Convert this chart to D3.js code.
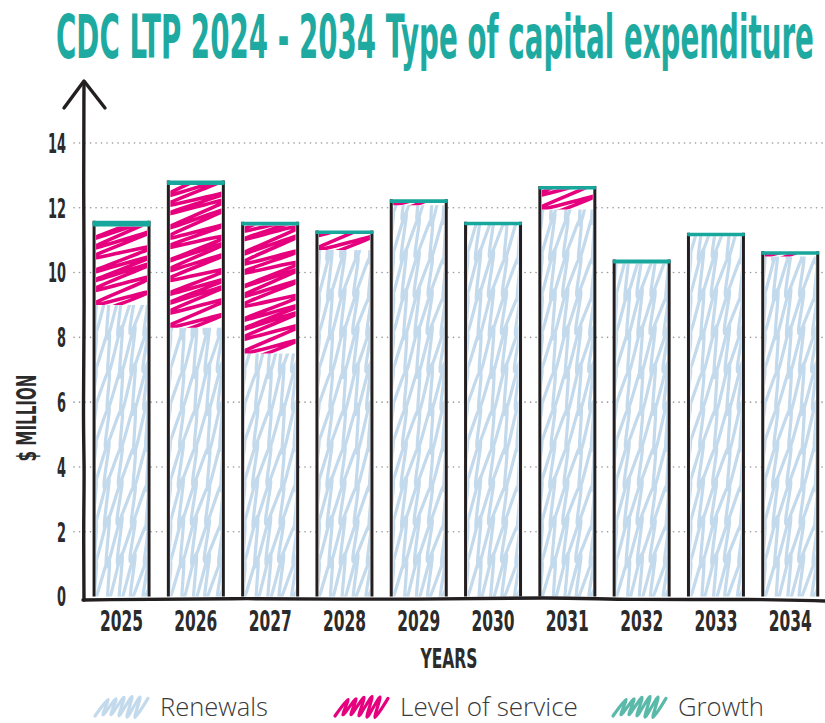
<!DOCTYPE html>
<html>
<head>
<meta charset="utf-8">
<script src="https://cdn.jsdelivr.net/npm/d3@7"></script>
<style>
  body { margin: 0; background: #fff; }
  .cond { font-family: "Liberation Sans Narrow", "DejaVu Sans Condensed", "Roboto Condensed", sans-serif; font-weight: bold; font-stretch: condensed; }
</style>
</head>
<body>
<div id="container"></div>
<script>
// chart data ($ million)
const years = ["2025", "2026", "2027", "2028", "2029", "2030", "2031", "2032", "2033", "2034"];
const renewals = [9.0, 8.3, 7.5, 10.7, 12.08, 11.47, 11.95, 10.28, 11.12, 10.5];
const levelOfService = [2.42, 4.4, 3.95, 0.5, 0.07, 0, 0.62, 0, 0, 0.07];
const growth = [0.18, 0.14, 0.12, 0.1, 0.11, 0.1, 0.1, 0.12, 0.11, 0.09];
const yTicks = [0, 2, 4, 6, 8, 10, 12, 14];
const seriesNames = ["Renewals", "Level of service", "Growth"];

const w = 825, h = 723;
const ink = "#231f20";
const colors = { renewals: "#c3d9ec", los: "#e6007e", growth: "#17a79c", growthKey: "#5bb9aa" };

let svg = d3.select("#container").append("svg")
    .attr("width", w).attr("height", h);

let x = d3.scaleBand().domain(years).range([84.4, 827.4])
    .paddingInner(0.26).paddingOuter(0.13);
let y = d3.scaleLinear().domain([0, 14]).range([596.5, 143]);

// squeeze a text horizontally to a wanted width, keeping its anchor point
function squeeze(sel, target) {
    sel.each(function () {
        let t = d3.select(this);
        let natural = this.getComputedTextLength();
        let want = typeof target === "function" ? target(t.text()) : target;
        let sx = want / natural;
        let ax = +t.attr("x") || 0, ay = +t.attr("y") || 0;
        t.attr("transform", `translate(${ax},${ay}) scale(${sx},1) translate(${-ax},${-ay})`);
    });
}

// title
svg.append("text")
    .attr("class", "cond")
    .attr("x", 56).attr("y", 58)
    .style("font-size", "61px").style("fill", "#1eaaa0")
    .text("CDC LTP 2024 - 2034 Type of capital expenditure")
    .call(squeeze, 758);

// dotted grid
svg.append("g").selectAll("line")
    .data(yTicks.filter(d => d > 0))
    .enter().append("line")
    .attr("x1", 74).attr("x2", w)
    .attr("y1", d => y(d)).attr("y2", d => y(d))
    .attr("stroke", "#9a9a9a").attr("stroke-width", 1.6)
    .attr("stroke-linecap", "round").attr("stroke-dasharray", "0.1,5.4");

// y tick labels
let yAxis = svg.append("g").attr("transform", "translate(70,0)")
    .call(d3.axisLeft(y).tickValues(yTicks).tickSize(0).tickPadding(4));
yAxis.select(".domain").remove();
yAxis.selectAll("text")
    .attr("class", "cond")
    .style("font-size", "26px").style("fill", "#2b2b2b")
    .attr("dy", "0.36em")
    .call(squeeze, s => s.length * 9);

// scribble helpers (purely decorative fill strokes)
let smooth = d3.line().curve(d3.curveCatmullRom.alpha(0.5));
function rowScribble(x0, y0, bw, bh) {
    // loops running left to right, stacked in rows from the bottom
    let p = "", r = 0;
    for (let b = y0 + bh + 6; b > y0 - 10; b -= 38, r++) {
        let seg = [];
        for (let xx = x0 - 14, i = 0; xx < x0 + bw + 14; xx += 13, i++) {
            seg.push([xx + 2 * Math.sin(i + r), b - 3 * Math.sin(i * 1.7 + r)]);
            seg.push([xx + 16, b - 46 + 4 * Math.cos(i * 1.3 + r)]);
        }
        p += smooth(seg);
    }
    return p;
}
function climbScribble(x0, y0, bw, bh) {
    // zigzag climbing from the bottom of the segment to its top
    let seg = [];
    for (let yy = y0 + bh + 10, i = 0; yy > y0 - 30; yy -= 11, i++) {
        seg.push([x0 - 4, yy + 2 * Math.sin(i * 2.1)]);
        seg.push([x0 + bw + 4, yy - 27 + 3 * Math.cos(i * 1.7)]);
    }
    return smooth(seg);
}

let defs = svg.append("defs");
let bars = svg.append("g");

years.forEach((yr, i) => {
    let bx = x(yr), bw = x.bandwidth();
    let r = renewals[i], l = levelOfService[i], g = growth[i];
    let top = y(r + l + g);

    // white card behind the bar
    bars.append("rect")
        .attr("x", bx).attr("y", top).attr("width", bw).attr("height", y(0) - top)
        .attr("fill", "#fff");

    // renewals
    let idR = "clipR" + i;
    defs.append("clipPath").attr("id", idR).append("rect")
        .attr("x", bx + 2).attr("y", y(r)).attr("width", bw - 4).attr("height", y(0) - y(r));
    bars.append("path")
        .attr("d", rowScribble(bx, y(r), bw, y(0) - y(r)))
        .attr("clip-path", "url(#" + idR + ")")
        .attr("fill", "none").attr("stroke", colors.renewals)
        .attr("stroke-width", 3.2).attr("stroke-linejoin", "round").attr("stroke-linecap", "round");

    // level of service
    if (l > 0) {
        let idL = "clipL" + i;
        let lh = Math.max(y(r) - y(r + l), 2);
        defs.append("clipPath").attr("id", idL).append("rect")
            .attr("x", bx + 2).attr("y", y(r) - lh).attr("width", bw - 4).attr("height", lh);
        bars.append("path")
            .attr("d", climbScribble(bx, y(r) - lh, bw, lh))
            .attr("clip-path", "url(#" + idL + ")")
            .attr("fill", "none").attr("stroke", colors.los)
            .attr("stroke-width", 3.6).attr("stroke-linejoin", "round").attr("stroke-linecap", "round");
    }

    // outline sides
    bars.append("path")
        .attr("d", `M${bx},${y(0)}L${bx},${top}M${bx + bw},${top}L${bx + bw},${y(0)}`)
        .attr("fill", "none").attr("stroke", ink).attr("stroke-width", 3);

    // growth cap
    let gh = Math.max(y(r + l) - top, 3.5);
    bars.append("rect")
        .attr("x", bx - 1.5).attr("y", top).attr("width", bw + 3).attr("height", gh)
        .attr("rx", 1.5)
        .attr("fill", colors.growth);
});

// hand drawn axes
let wobble = d3.line().curve(d3.curveBasis);
svg.append("path")
    .attr("d", wobble([[84, 600], [83.5, 520], [84.5, 470], [83, 420], [84.5, 300], [83.5, 200], [84, 82]]))
    .attr("fill", "none").attr("stroke", ink).attr("stroke-width", 3.4).attr("stroke-linecap", "round");
svg.append("path")
    .attr("d", "M64,108L84,81L105,108")
    .attr("fill", "none").attr("stroke", ink).attr("stroke-width", 3.4)
    .attr("stroke-linecap", "round").attr("stroke-linejoin", "round");
svg.append("path")
    .attr("d", wobble([[83, 600], [250, 598], [400, 600], [560, 597], [620, 600], [760, 599], [825, 601]]))
    .attr("fill", "none").attr("stroke", ink).attr("stroke-width", 3.4).attr("stroke-linecap", "round");

// x labels
let xAxis = svg.append("g").attr("transform", "translate(0,600)")
    .call(d3.axisBottom(x).tickSize(0));
xAxis.select(".domain").remove();
xAxis.selectAll("text")
    .attr("class", "cond")
    .attr("y", 31).attr("dy", 0)
    .style("font-size", "29px").style("fill", "#2b2b2b")
    .call(squeeze, 43);

// axis titles
svg.append("text")
    .attr("class", "cond")
    .attr("x", 449).attr("y", 668).attr("text-anchor", "middle")
    .style("font-size", "26px").style("fill", "#2b2b2b")
    .text("YEARS")
    .call(squeeze, 57);
svg.append("g")
    .attr("transform", "translate(36,418) rotate(-90)")
    .append("text")
    .attr("class", "cond")
    .attr("x", 0).attr("y", 0)
    .attr("text-anchor", "middle")
    .style("font-size", "26px").style("fill", "#2b2b2b")
    .text("$ MILLION")
    .call(squeeze, 87);

// legend
let legendX = [95, 335, 613];
let legendColors = [colors.renewals, colors.los, colors.growthKey];
let legendLen = [108, 178, 86];
let legend = svg.append("g");
seriesNames.forEach((name, i) => {
    let lx = legendX[i];
    let seg = [];
    for (let k = 0; k < 6; k++) {
        seg.push([lx + k * 8, 716 - 1.5 * Math.sin(k)]);
        seg.push([lx + k * 8 + 13, 698 + 1.5 * Math.cos(k)]);
    }
    legend.append("path")
        .attr("d", smooth(seg))
        .attr("fill", "none").attr("stroke", legendColors[i])
        .attr("stroke-width", 3.2).attr("stroke-linejoin", "round").attr("stroke-linecap", "round");
    legend.append("text")
        .attr("x", lx + 65).attr("y", 716)
        .style("font-family", "'Open Sans', Lato, sans-serif")
        .style("font-weight", 300)
        .style("font-size", "25px").style("fill", "#3a3a3a")
        .text(name)
        .call(squeeze, legendLen[i]);
});
</script>
</body>
</html>
